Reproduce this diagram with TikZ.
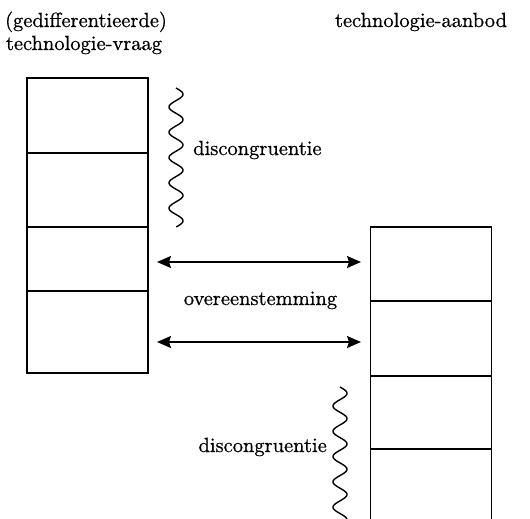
\documentclass[tikz,border=0pt]{standalone}
\usepackage{fontspec}
\setmainfont{lmroman10-regular.otf}[FakeBold=0.7]
\usetikzlibrary{arrows.meta}
\begin{document}
\begin{tikzpicture}[x=1pt,y=-1pt,
  cell/.style={draw,line width=1.5pt,minimum width=121pt,inner sep=0pt,outer sep=0pt},
  lbl/.style={font=\fontsize{20.5}{24}\selectfont,anchor=base,inner sep=0pt},
  dbl/.style={line width=1.6pt,{Stealth[length=14pt,width=12pt,inset=2pt]}-{Stealth[length=14pt,width=12pt,inset=2pt]}},
  wave/.style={line width=1.4pt}]
\clip (0,0) rectangle (530,519);
% left column
\node[cell,minimum height=75pt] (L1) at (87.5,115.5) {};
\node[cell,minimum height=74pt] (L2) at (87.5,190) {};
\node[cell,minimum height=64pt] (L3) at (87.5,259) {};
\node[cell,minimum height=82pt] (L4) at (87.5,332) {};
% right column
\node[cell,minimum height=74pt] (R1) at (431,264) {};
\node[cell,minimum height=75pt] (R2) at (431,338.5) {};
\node[cell,minimum height=73pt] (R3) at (431,412.5) {};
\node[cell,minimum height=90pt] (R4) at (431,494) {};
% titles
\node[lbl] (t1) at (86,27) {(gedifferentieerde)};
\node[lbl] (t2) at (84,50) {technologie-vraag};
\node[lbl] (t3) at (421,27) {technologie-aanbod};
% labels
\node[lbl,anchor=base west] (d1) at (193,155) {discongruentie};
\node[lbl,anchor=base east] (d2) at (327,452) {discongruentie};
\node[lbl] (ov) at (260.5,305) {overeenstemming};
% arrows
\coordinate (a1l) at (157,262);
\coordinate (a1r) at (361,262);
\coordinate (a2l) at (157,342);
\coordinate (a2r) at (361,342);
\draw[dbl] (a1l) -- (a1r);
\draw[dbl] (a2l) -- (a2r);
% waves
\draw[wave] plot[domain=0:139,samples=200,smooth] ({176+7*sin(14.23*\x)},{88+\x});
\draw[wave] plot[domain=0:140,samples=200,smooth] ({340+7*sin(14.23*\x)},{387+\x});
\end{tikzpicture}
\end{document}
